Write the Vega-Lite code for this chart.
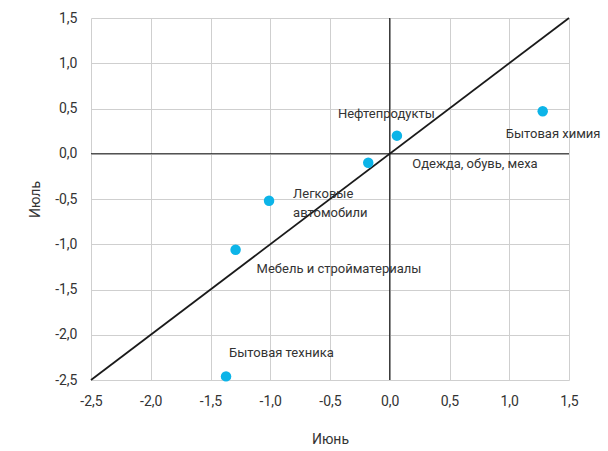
{
  "$schema": "https://vega.github.io/schema/vega-lite/v6.json",
  "width": 478,
  "height": 362,
  "autosize": {"type": "none"},
  "padding": {"left": 91, "top": 18, "right": 39, "bottom": 71},
  "background": "white",
  "config": {
    "view": {"stroke": null},
    "font": "Roboto",
    "axis": {
      "grid": true,
      "gridColor": "#cfcfcf",
      "gridWidth": 1,
      "domain": false,
      "ticks": false,
      "labelFont": "Roboto",
      "labelFontSize": 14,
      "labelColor": "#333333",
      "titleFont": "Roboto",
      "titleFontSize": 14,
      "titleFontWeight": "normal",
      "titleColor": "#333333"
    }
  },
  "datasets": {
    "pts": [
      {"name": "Бытовая химия", "june": 1.28, "july": 0.47},
      {"name": "Нефтепродукты", "june": 0.06, "july": 0.2},
      {"name": "Одежда, обувь, меха", "june": -0.18, "july": -0.1},
      {"name": "Легковые автомобили", "june": -1.01, "july": -0.52},
      {"name": "Мебель и стройматериалы", "june": -1.29, "july": -1.06},
      {"name": "Бытовая техника", "june": -1.37, "july": -2.46}
    ],
    "diag": [
      {"june": -2.5, "july": -2.5},
      {"june": 1.5, "july": 1.5}
    ],
    "zero": [
      {"june": 0, "july": 0, "lo": -2.5, "hi": 1.5}
    ]
  },
  "encoding": {
    "x": {
      "field": "june", "type": "quantitative",
      "scale": {"domain": [-2.5, 1.5], "nice": false, "zero": false},
      "axis": {
        "title": "Июнь",
        "values": [-2.5, -2, -1.5, -1, -0.5, 0, 0.5, 1, 1.5],
        "labelExpr": "replace(replace(format(datum.value, '.1f'), '.', ','), '\u2212', '-')",
        "labelPadding": 14,
        "titlePadding": 24,
        "labelFlush": false
      }
    },
    "y": {
      "field": "july", "type": "quantitative",
      "scale": {"domain": [-2.5, 1.5], "nice": false, "zero": false},
      "axis": {
        "title": "Июль",
        "values": [-2.5, -2, -1.5, -1, -0.5, 0, 0.5, 1, 1.5],
        "labelExpr": "replace(replace(format(datum.value, '.1f'), '.', ','), '\u2212', '-')",
        "labelPadding": 14,
        "titlePadding": 12,
        "labelFlush": false
      }
    }
  },
  "layer": [
    {
      "data": {"name": "zero"},
      "mark": {"type": "rule", "color": "#1a1a1a", "strokeWidth": 1.2},
      "encoding": {"y": {"field": "lo", "type": "quantitative"}, "y2": {"field": "hi"}}
    },
    {
      "data": {"name": "zero"},
      "mark": {"type": "rule", "color": "#1a1a1a", "strokeWidth": 1.2},
      "encoding": {"x": {"field": "lo", "type": "quantitative"}, "x2": {"field": "hi"}}
    },
    {
      "data": {"name": "diag"},
      "mark": {"type": "line", "color": "#1a1a1a", "strokeWidth": 1.8},
      "encoding": {}
    },
    {
      "data": {"name": "pts"},
      "mark": {"type": "point", "filled": true, "color": "#0cb4e8", "opacity": 1, "size": 110},
      "encoding": {}
    },
    {
      "data": {"name": "pts"},
      "transform": [{"filter": "datum.name === 'Нефтепродукты'"}],
      "mark": {"type": "text", "align": "left", "baseline": "middle", "dx": -59, "dy": -22, "fontSize": 13, "color": "#333333"},
      "encoding": {"text": {"field": "name"}}
    },
    {
      "data": {"name": "pts"},
      "transform": [{"filter": "datum.name === 'Бытовая химия'"}],
      "mark": {"type": "text", "align": "left", "baseline": "middle", "dx": -37, "dy": 23, "fontSize": 13, "color": "#333333"},
      "encoding": {"text": {"field": "name"}}
    },
    {
      "data": {"name": "pts"},
      "transform": [{"filter": "datum.name === 'Одежда, обувь, меха'"}],
      "mark": {"type": "text", "align": "left", "baseline": "middle", "dx": 44, "dy": 1, "fontSize": 13, "color": "#333333"},
      "encoding": {"text": {"field": "name"}}
    },
    {
      "data": {"name": "pts"},
      "transform": [{"filter": "datum.name === 'Легковые автомобили'"}],
      "mark": {"type": "text", "align": "left", "baseline": "middle", "dx": 24, "dy": -7, "fontSize": 13, "color": "#333333", "lineBreak": " ", "lineHeight": 19},
      "encoding": {"text": {"field": "name"}}
    },
    {
      "data": {"name": "pts"},
      "transform": [{"filter": "datum.name === 'Мебель и стройматериалы'"}],
      "mark": {"type": "text", "align": "left", "baseline": "middle", "dx": 21, "dy": 19, "fontSize": 13, "color": "#333333"},
      "encoding": {"text": {"field": "name"}}
    },
    {
      "data": {"name": "pts"},
      "transform": [{"filter": "datum.name === 'Бытовая техника'"}],
      "mark": {"type": "text", "align": "left", "baseline": "middle", "dx": 3, "dy": -23, "fontSize": 13, "color": "#333333"},
      "encoding": {"text": {"field": "name"}}
    }
  ]
}
